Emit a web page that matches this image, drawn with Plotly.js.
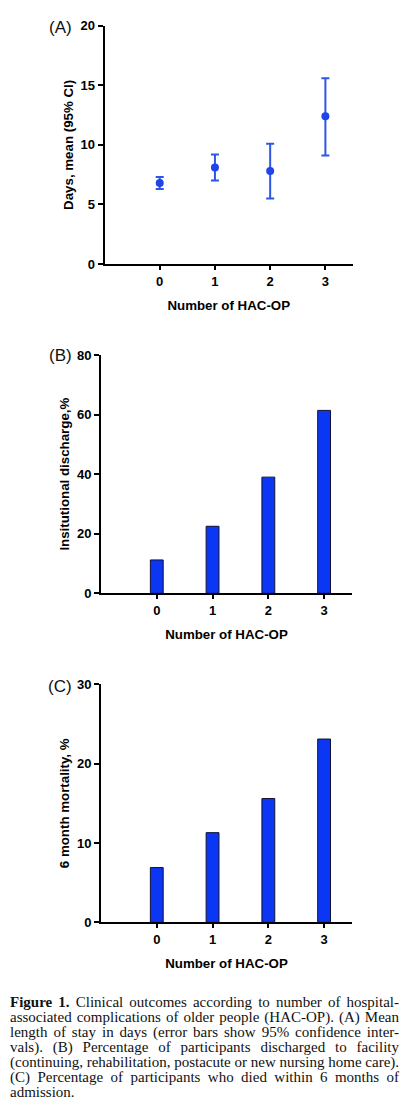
<!DOCTYPE html>
<html>
<head>
<meta charset="utf-8">
<script src="https://cdn.plot.ly/plotly-3.0.1.min.js"></script>
<style>
  html, body { margin: 0; padding: 0; background: #fff; }
  #chart { width: 409px; height: 1111px; }
</style>
</head>
<body>
<div id="chart"></div>
<script>
// ---- data ----
var categories = [0, 1, 2, 3];
var tickLabels = ['0', '1', '2', '3'];
// (A) length of stay, mean with 95% CI
var losMean  = [6.8, 8.1, 7.8, 12.4];
var losUpper = [7.3, 9.2, 10.1, 15.6];
var losLower = [6.3, 7.0, 5.5, 9.1];
// (B) institutional discharge, %
var dischargePct = [11.2, 22.5, 39.0, 61.4];
// (C) 6 month mortality, %
var mortalityPct = [6.9, 11.3, 15.6, 23.1];

var panelLabels = ['(A)', '(B)', '(C)'];
var captionLines = [
  '<b>Figure 1.</b> Clinical outcomes according to number of hospital-',
  'associated complications of older people (HAC-OP). (A) Mean',
  'length of stay in days (error bars show 95% confidence inter-',
  'vals). (B) Percentage of participants discharged to facility',
  '(continuing, rehabilitation, postacute or new nursing home care).',
  '(C) Percentage of participants who died within 6 months of',
  'admission.'
];

var errPlus = losMean.map(function (m, i) { return losUpper[i] - m; });
var errMinus = losMean.map(function (m, i) { return m - losLower[i]; });

var blueMarker = '#1f45ea';
var blueBar = '#0b36f4';

var data = [
  {
    type: 'scatter', mode: 'markers', x: categories, y: losMean,
    xaxis: 'x', yaxis: 'y',
    marker: { color: blueMarker, size: 8 },
    error_y: { type: 'data', symmetric: false, array: errPlus, arrayminus: errMinus,
               color: '#2e55e6', thickness: 2, width: 4 },
    hoverinfo: 'none', showlegend: false
  },
  {
    type: 'bar', x: categories, y: dischargePct, xaxis: 'x2', yaxis: 'y2',
    width: 0.23, marker: { color: blueBar, line: { color: '#111133', width: 1 } },
    hoverinfo: 'none', showlegend: false
  },
  {
    type: 'bar', x: categories, y: mortalityPct, xaxis: 'x3', yaxis: 'y3',
    width: 0.23, marker: { color: blueBar, line: { color: '#111133', width: 1 } },
    hoverinfo: 'none', showlegend: false
  }
];

var tickFont = { family: 'Liberation Sans, Arial, sans-serif', size: 13, color: '#000' };
var titleFont = { family: 'Liberation Sans, Arial, sans-serif', size: 13.3, color: '#000' };

function xAxis(domain, anchor) {
  return {
    domain: domain, anchor: anchor, range: [-1, 3.5],
    tickvals: categories, ticktext: tickLabels.map(function (t) { return '<b>' + t + '</b>'; }),
    showline: true, linecolor: '#000', linewidth: 2,
    ticks: 'outside', ticklen: 4, tickwidth: 2, tickcolor: '#000',
    showgrid: false, zeroline: false, tickfont: tickFont,
    title: { text: '<b>Number of HAC-OP</b>', font: titleFont, standoff: 13 },
    fixedrange: true
  };
}
function yAxis(domain, anchor, range, dtick, title) {
  return {
    domain: domain, anchor: anchor, range: range, dtick: dtick,
    tickprefix: '<b>', ticksuffix: '</b>',
    showline: true, linecolor: '#000', linewidth: 2,
    ticks: 'outside', ticklen: 5, tickwidth: 2, tickcolor: '#000',
    showgrid: false, zeroline: false, tickfont: tickFont,
    title: { text: '<b>' + title + '</b>', font: titleFont, standoff: 4 },
    fixedrange: true
  };
}

var W = 409, H = 1111;
function py(px) { return 1 - px / H; }
function pxx(px) { return px / W; }

var labelY = [27.5, 356, 686];
var annotations = panelLabels.map(function (lab, i) {
  return { text: lab, x: pxx(60), y: py(labelY[i]), xref: 'paper', yref: 'paper',
    xanchor: 'center', yanchor: 'middle', showarrow: false,
    font: { family: 'Liberation Sans, Arial, sans-serif', size: 17, color: '#111' } };
});
var captionStart = annotations.length;
captionLines.forEach(function (line, i) {
  annotations.push({
    text: line, x: pxx(8), y: py(1002 + i * 15), xref: 'paper', yref: 'paper',
    xanchor: 'left', yanchor: 'middle', align: 'left', showarrow: false,
    font: { family: 'Liberation Serif, Times New Roman, serif', size: 15, color: '#111' }
  });
});

var layout = {
  width: W, height: H,
  margin: { l: 0, r: 0, t: 0, b: 0 },
  paper_bgcolor: '#fff', plot_bgcolor: '#fff',
  showlegend: false,
  xaxis: xAxis([pxx(104.5), pxx(353)], 'y'),
  yaxis: yAxis([py(264), py(25.7)], 'x', [0, 20], 5, 'Days, mean (95% CI)'),
  xaxis2: xAxis([pxx(101), pxx(352)], 'y2'),
  yaxis2: yAxis([py(593.3), py(355)], 'x2', [0, 80], 20, 'Insitutional discharge,%'),
  xaxis3: xAxis([pxx(101), pxx(352)], 'y3'),
  yaxis3: yAxis([py(922.3), py(684.3)], 'x3', [0, 30], 10, '6 month mortality, %'),
  annotations: annotations
};

Plotly.newPlot('chart', data, layout, { staticPlot: true, displayModeBar: false }).then(function (gd) {
  var target = 389;
  var groups = gd.querySelectorAll('.annotation');
  groups.forEach(function (g) {
    var idx = +g.getAttribute('data-index');
    var li = idx - captionStart;
    if (li < 0 || li >= captionLines.length - 1) return;
    var t = g.querySelector('text.annotation-text');
    if (!t) return;
    var w = t.getComputedTextLength();
    var n = (t.textContent.match(/ /g) || []).length;
    if (n > 0 && w < target) t.style.wordSpacing = ((target - w) / n) + 'px';
  });
});
</script>
</body>
</html>
